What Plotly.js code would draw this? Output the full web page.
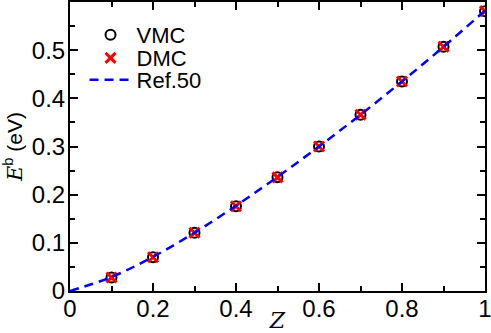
<!DOCTYPE html>
<html><head><meta charset="utf-8">
<script src="https://cdn.plot.ly/plotly-3.0.1.min.js"></script>
<style>html,body{margin:0;padding:0;background:#fff}#c{width:491px;height:333px}</style>
</head><body><div id="c"></div>
<script>
const zPts = [0.1, 0.2, 0.3, 0.4, 0.5, 0.6, 0.7, 0.8, 0.9, 1.0];
const vmc = [0.028, 0.070, 0.121, 0.176, 0.236, 0.300, 0.366, 0.435, 0.507, 0.581];
const dmc = [0.028, 0.070, 0.121, 0.176, 0.236, 0.300, 0.366, 0.435, 0.507, 0.581];
const zRef = [0, 0.1, 0.2, 0.3, 0.4, 0.5, 0.6, 0.7, 0.8, 0.9, 1.0];
const ref50 = [0, 0.029, 0.071, 0.121, 0.177, 0.237, 0.300, 0.366, 0.435, 0.507, 0.582];
const xTicks = [0, 0.2, 0.4, 0.6, 0.8, 1];
const xTickText = ['0', '0.2', '0.4', '0.6', '0.8', '1'];
const yTicks = [0, 0.1, 0.2, 0.3, 0.4, 0.5];
const yTickText = ['0', '0.1', '0.2', '0.3', '0.4', '0.5'];

const font = {family: 'Liberation Sans', size: 24, color: '#000'};
const lfont = {family: 'Liberation Sans', size: 22, color: '#000'};
const traces = [
  {x: zPts, y: vmc, name: 'VMC', mode: 'markers', type: 'scatter', legend: 'legend',
   marker: {symbol: 'circle-open', size: 10, color: '#000', line: {width: 2, color: '#000'}}},
  {x: zPts, y: dmc, name: 'DMC', mode: 'markers', type: 'scatter', legend: 'legend2',
   marker: {symbol: 'x-thin-open', size: 10, color: '#ff0000', line: {width: 3, color: '#ff0000'}}},
  {x: zRef, y: ref50, name: 'Ref.50', mode: 'lines', type: 'scatter', legend: 'legend3',
   line: {color: '#0000ff', width: 2.5, dash: '9px,6px', shape: 'spline'}}
];
const axisCommon = {
  showgrid: false, zeroline: false, showline: true, linecolor: '#000', linewidth: 2,
  mirror: 'ticks', ticks: 'inside', ticklen: 8, tickwidth: 2, tickcolor: '#000',
  tickfont: font, ticklabeloverflow: 'allow'
};
function leg(y) {
  return {x: 0.035, y: y, xanchor: 'left', yanchor: 'middle', font: lfont,
          bgcolor: 'rgba(0,0,0,0)', itemwidth: 42, borderwidth: 0};
}
const layout = {
  width: 491, height: 333,
  margin: {l: 70, r: 6, t: 2, b: 42},
  paper_bgcolor: '#fff', plot_bgcolor: '#fff',
  showlegend: true,
  legend: leg(0.886), legend2: leg(0.806), legend3: leg(0.730),
  xaxis: Object.assign({}, axisCommon, {
    range: [0, 1], tickvals: xTicks, ticktext: xTickText, ticklabelstandoff: -5,
    minor: {dtick: 0.1, ticks: 'inside', ticklen: 5, tickwidth: 2, tickcolor: '#000'},
    title: {text: '<i>Z</i>', font: {family: 'DejaVu Serif', size: 22, color: '#000'}, standoff: 0}
  }),
  yaxis: Object.assign({}, axisCommon, {
    range: [0, 0.6], tickvals: yTicks, ticktext: yTickText, ticklabelstandoff: -2,
    minor: {dtick: 0.05, ticks: 'inside', ticklen: 5, tickwidth: 2, tickcolor: '#000'},
    title: {text: '<i><span style="font-family:DejaVu Serif">E</span></i><sup>b</sup> (eV)',
            font: {family: 'Liberation Sans', size: 21, color: '#000'}, standoff: 6}
  })
};
Plotly.newPlot('c', traces, layout, {displayModeBar: false, staticPlot: true});
</script></body></html>
